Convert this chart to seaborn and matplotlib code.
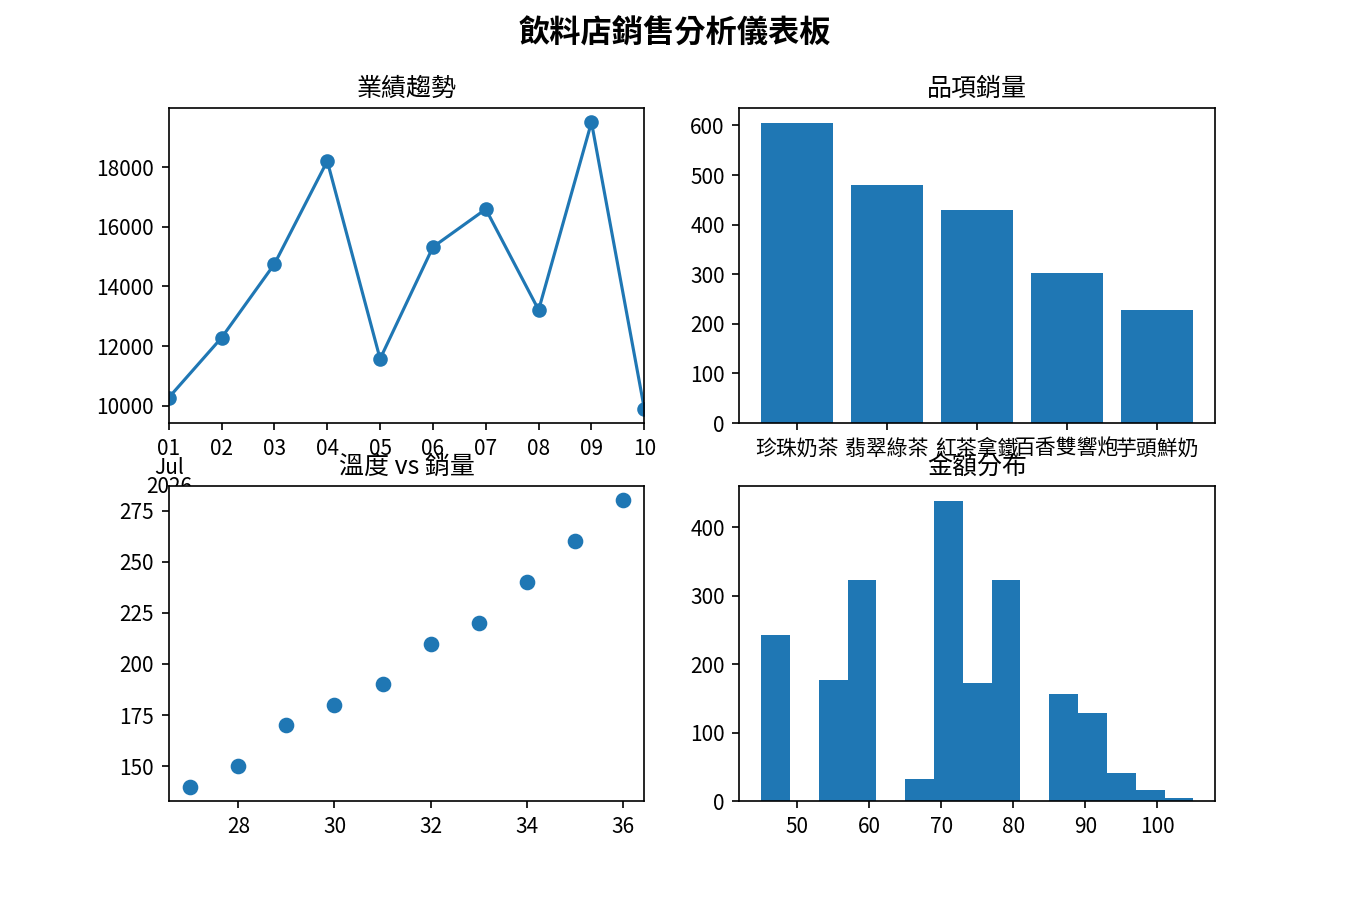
import pandas as pd
import numpy as np
import matplotlib
matplotlib.use("Agg")
import matplotlib.pyplot as plt
import seaborn as sns

plt.rcParams['font.family'] = ['Noto Sans CJK TC', 'DejaVu Sans']

# 業績趨勢
days = pd.date_range("2026-07-01", "2026-07-10", freq="D")
revenue = [10270, 12280, 14750, 18200, 11570, 15320, 16590, 13210, 19500, 9900]

# 品項銷量
items = ["珍珠奶茶", "翡翠綠茶", "紅茶拿鐵", "百香雙響炮", "芋頭鮮奶"]
item_qty = [605, 480, 430, 302, 228]

# 溫度 vs 銷量
temps = [27, 28, 29, 30, 31, 32, 33, 34, 35, 36]
temp_qty = [140, 150, 170, 180, 190, 210, 220, 240, 260, 280]

# 金額分布
prices = [47, 55, 59, 67, 71, 75, 79, 87, 91, 95, 99, 103]
price_counts = [243, 176, 323, 32, 438, 172, 323, 156, 128, 41, 16, 5]

c0 = "#1f77b4"

fig, axes = plt.subplots(2, 2, figsize=(9, 6), dpi=150)
fig.suptitle("飲料店銷售分析儀表板", fontsize=15, fontweight="bold")

# line
ax = axes[0, 0]
sns.lineplot(x=days, y=revenue, ax=ax, color=c0, marker="o", markersize=6,
             markeredgecolor=c0, markeredgewidth=1)
ax.set_xlim(days[0], days[-1])
ax.set_xticks(days)
ax.set_xticklabels(["01\nJul\n2026"] + [d.strftime("%d") for d in days[1:]],
                   linespacing=0.85)
ax.set_title("業績趨勢")

# bar
ax = axes[0, 1]
sns.barplot(x=items, y=item_qty, ax=ax, color=c0, saturation=1, width=0.8)
ax.autoscale(enable=True, axis="x")
ax.set_title("品項銷量")

# scatter
ax = axes[1, 0]
sns.scatterplot(x=temps, y=temp_qty, ax=ax, color=c0, s=36,
                edgecolor=c0, linewidth=1.5)
ax.set_title("溫度 vs 銷量")

# hist
ax = axes[1, 1]
sns.histplot(x=prices, weights=price_counts, binwidth=4, binrange=(45, 105),
             ax=ax, color=c0, alpha=1, linewidth=0)
ax.set_title("金額分布")

for ax in axes.flat:
    ax.set_xlabel("")
    ax.set_ylabel("")

plt.savefig("out.png", dpi=150)
